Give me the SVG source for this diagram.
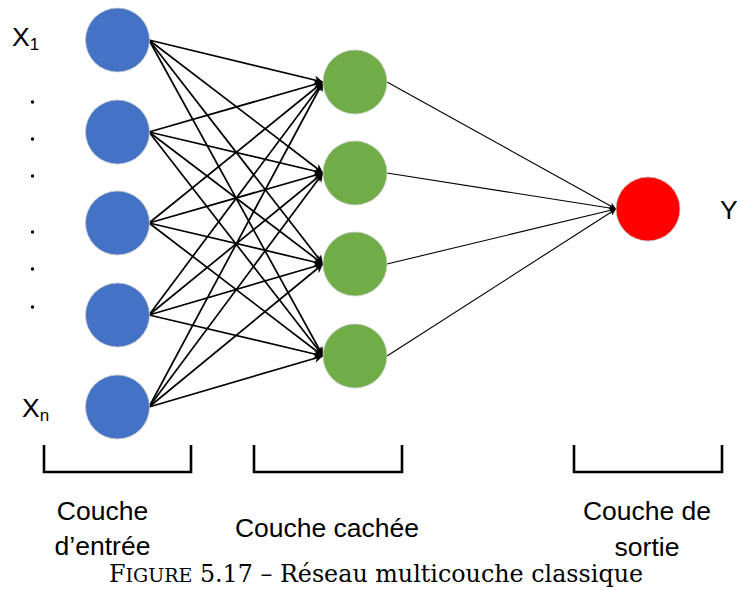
<svg xmlns="http://www.w3.org/2000/svg" width="737" height="590" viewBox="0 0 737 590">
<style>
.in{fill:#4472C4;stroke:#c8c8c8;stroke-width:0.8}
.hid{fill:#70AD47;stroke:#c8c8c8;stroke-width:0.8}
.out{fill:#FF0000;stroke:#c8c8c8;stroke-width:0.8}
.e1{stroke:#000;stroke-width:1.7;fill:none;marker-end:url(#ah)}
.e2{stroke:#000;stroke-width:1.1;fill:none;marker-end:url(#ah2)}
.lbl{font-family:"Liberation Sans",Arial,sans-serif;font-size:26.5px;fill:#000}
.sub{font-family:"Liberation Sans",Arial,sans-serif;font-size:17px;fill:#000}
.br{stroke:#000;stroke-width:2.6;fill:none}
.cap{font-family:"DejaVu Serif","Liberation Serif",serif;font-size:23.8px;fill:#000}
</style>
<defs>
<marker id="ah" viewBox="0 0 10 10" refX="10" refY="5" markerWidth="10" markerHeight="9" markerUnits="userSpaceOnUse" orient="auto">
<path d="M0,0 L10,5 L0,10 L3,5 z" fill="#000"/>
</marker>
<marker id="ah2" viewBox="0 0 10 10" refX="10" refY="5" markerWidth="8" markerHeight="7" markerUnits="userSpaceOnUse" orient="auto">
<path d="M0,0 L10,5 L0,10 L3,5 z" fill="#000"/>
</marker>
</defs>
<g id="connectors">
<line class="e1" x1="149" y1="40" x2="323" y2="82"/>
<line class="e1" x1="149" y1="40" x2="323" y2="173"/>
<line class="e1" x1="149" y1="40" x2="323" y2="264"/>
<line class="e1" x1="149" y1="40" x2="323" y2="356"/>
<line class="e1" x1="149" y1="132" x2="323" y2="82"/>
<line class="e1" x1="149" y1="132" x2="323" y2="173"/>
<line class="e1" x1="149" y1="132" x2="323" y2="264"/>
<line class="e1" x1="149" y1="132" x2="323" y2="356"/>
<line class="e1" x1="149" y1="223" x2="323" y2="82"/>
<line class="e1" x1="149" y1="223" x2="323" y2="173"/>
<line class="e1" x1="149" y1="223" x2="323" y2="264"/>
<line class="e1" x1="149" y1="223" x2="323" y2="356"/>
<line class="e1" x1="149" y1="315" x2="323" y2="82"/>
<line class="e1" x1="149" y1="315" x2="323" y2="173"/>
<line class="e1" x1="149" y1="315" x2="323" y2="264"/>
<line class="e1" x1="149" y1="315" x2="323" y2="356"/>
<line class="e1" x1="149" y1="407" x2="323" y2="82"/>
<line class="e1" x1="149" y1="407" x2="323" y2="173"/>
<line class="e1" x1="149" y1="407" x2="323" y2="264"/>
<line class="e1" x1="149" y1="407" x2="323" y2="356"/>
<line class="e2" x1="387" y1="82" x2="616" y2="209"/>
<line class="e2" x1="387" y1="173" x2="616" y2="209"/>
<line class="e2" x1="387" y1="264" x2="616" y2="209"/>
<line class="e2" x1="387" y1="356" x2="616" y2="209"/>
</g>
<g id="input1"><circle class="in" cx="117.5" cy="40" r="32"/></g>
<g id="input2"><circle class="in" cx="117.5" cy="132" r="32"/></g>
<g id="input3"><circle class="in" cx="117.5" cy="223" r="32"/></g>
<g id="input4"><circle class="in" cx="117.5" cy="315" r="32"/></g>
<g id="input5"><circle class="in" cx="117.5" cy="407" r="32"/></g>
<g id="hidden1"><circle class="hid" cx="355" cy="82" r="32"/></g>
<g id="hidden2"><circle class="hid" cx="355" cy="173" r="32"/></g>
<g id="hidden3"><circle class="hid" cx="355" cy="264" r="32"/></g>
<g id="hidden4"><circle class="hid" cx="355" cy="356" r="32"/></g>
<g id="output"><circle class="out" cx="648" cy="209" r="32"/></g>
<g id="labels">
<text class="lbl" x="12" y="46">X<tspan class="sub" dy="4">1</tspan></text>
<text class="lbl" x="22" y="417">X<tspan class="sub" dy="4">n</tspan></text>
<text class="lbl" x="720" y="219" font-size="21">Y</text>
<g fill="#000">
<circle cx="32.5" cy="102" r="1.7"/>
<circle cx="32.5" cy="139" r="1.7"/>
<circle cx="32.5" cy="176" r="1.7"/>
<circle cx="32.5" cy="232" r="1.7"/>
<circle cx="32.5" cy="269" r="1.7"/>
<circle cx="32.5" cy="307" r="1.7"/>
</g>
</g>
<g id="brackets">
<path class="br" d="M44,445 V472 H191 V445"/>
<path class="br" d="M254,445 V472 H402 V445"/>
<path class="br" d="M574,445 V472 H722 V445"/>
</g>
<g id="layer-labels">
<text class="lbl" x="102.5" y="520" text-anchor="middle">Couche</text>
<text class="lbl" x="102.5" y="555" text-anchor="middle">d’entrée</text>
<text class="lbl" x="327" y="537" text-anchor="middle">Couche cachée</text>
<text class="lbl" x="647" y="520" text-anchor="middle">Couche de</text>
<text class="lbl" x="647" y="556" text-anchor="middle">sortie</text>
</g>
<text class="cap" x="376" y="582" text-anchor="middle">F<tspan font-size="19">IGURE</tspan> 5.17 – Réseau multicouche classique</text>
</svg>
